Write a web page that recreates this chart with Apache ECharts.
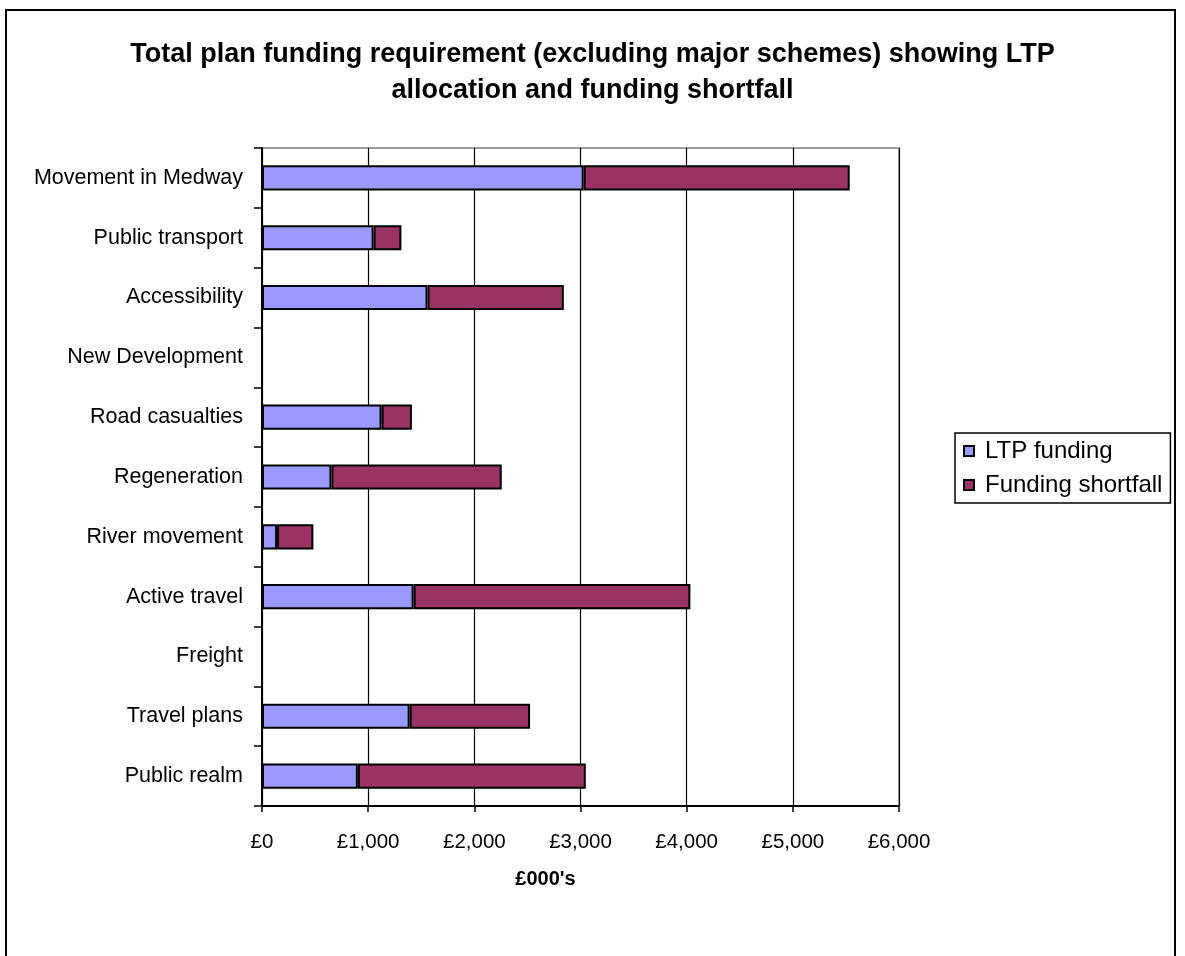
<!DOCTYPE html>
<html>
<head>
<meta charset="utf-8">
<title>LTP funding</title>
<script src="https://cdn.jsdelivr.net/npm/echarts@6/dist/echarts.min.js"></script>
<style>
  html, body { margin: 0; padding: 0; background: #fff; }
  #main { width: 1185px; height: 956px; }
</style>
</head>
<body>
<div id="main"></div>
<script>
// categories, top to bottom as in the chart
const categories = [
  "Movement in Medway", "Public transport", "Accessibility", "New Development",
  "Road casualties", "Regeneration", "River movement", "Active travel",
  "Freight", "Travel plans", "Public realm"
];
// £000's
const ltpFunding = [3030, 1051, 1559, 0, 1126, 654, 142, 1428, 0, 1391, 903];
const fundingShortfall = [2506, 262, 1284, 0, 286, 1604, 342, 2607, 0, 1134, 2147];
const xTicks = [0, 1000, 2000, 3000, 4000, 5000, 6000];

const font = "'Liberation Sans', Arial, sans-serif";
const chart = echarts.init(document.getElementById("main"));

const option = {
  backgroundColor: "#fff",
  animation: false,
  title: {
    text: "Total plan funding requirement (excluding major schemes) showing LTP\nallocation and funding shortfall",
    left: "center",
    top: 32,
    padding: [5, 0, 5, 10],
    textStyle: {
      fontFamily: font,
      fontSize: 27,
      fontWeight: "bold",
      color: "#000",
      lineHeight: 36,
    },
  },
  // frame round the whole chart
  graphic: [
    {
      type: "rect",
      shape: { x: 6, y: 10, width: 1169, height: 980 },
      style: { fill: "none", stroke: "#000", lineWidth: 2 },
      silent: true,
      z: -1,
    },
  ],
  legend: {
    orient: "vertical",
    left: 955,
    top: 433,
    padding: [2, 8, 2, 8],
    itemGap: 2,
    itemWidth: 10,
    itemHeight: 10,
    icon: "rect",
    borderColor: "#000",
    borderWidth: 1.5,
    textStyle: {
      fontFamily: font,
      fontSize: 24,
      color: "#000",
      lineHeight: 32,
      padding: [0, 0, 0, 6],
    },
    data: ["LTP funding", "Funding shortfall"],
  },
  grid: {
    left: 262,
    right: 286,
    top: 148,
    bottom: 150,
    show: true,
    borderColor: "#808080",
    borderWidth: 1.5,
    containLabel: false,
  },
  xAxis: {
    type: "value",
    min: xTicks[0],
    max: xTicks[xTicks.length - 1],
    interval: 1000,
    name: "£000's",
    nameLocation: "middle",
    nameGap: 63,
    nameTextStyle: {
      fontFamily: font,
      fontSize: 20,
      fontWeight: "bold",
      color: "#000",
      padding: [0, 70, 0, 0],
    },
    axisLine: { show: true, lineStyle: { color: "#000", width: 2 } },
    axisTick: { show: true, length: 6, lineStyle: { color: "#000", width: 1.5 } },
    axisLabel: {
      fontFamily: font,
      fontSize: 20.5,
      color: "#000",
      margin: 26,
      formatter: function (v) {
        return "£" + v.toLocaleString("en-GB");
      },
    },
    splitLine: { show: true, lineStyle: { color: "#000", width: 1.2 } },
  },
  yAxis: {
    type: "category",
    inverse: true,
    data: categories,
    axisLine: { show: true, lineStyle: { color: "#000", width: 2 } },
    axisTick: { show: true, length: 8, lineStyle: { color: "#000", width: 1.5 } },
    axisLabel: {
      fontFamily: font,
      fontSize: 21.5,
      color: "#000",
      margin: 19,
    },
    splitLine: { show: false },
  },
  series: [
    {
      name: "LTP funding",
      type: "bar",
      stack: "total",
      barCategoryGap: "58%",
      data: ltpFunding,
      itemStyle: { color: "#9999FF", borderColor: "#000", borderWidth: 2 },
    },
    {
      name: "Funding shortfall",
      type: "bar",
      stack: "total",
      barCategoryGap: "58%",
      data: fundingShortfall,
      itemStyle: { color: "#993366", borderColor: "#000", borderWidth: 2 },
    },
  ],
};

chart.setOption(option);
</script>
</body>
</html>
